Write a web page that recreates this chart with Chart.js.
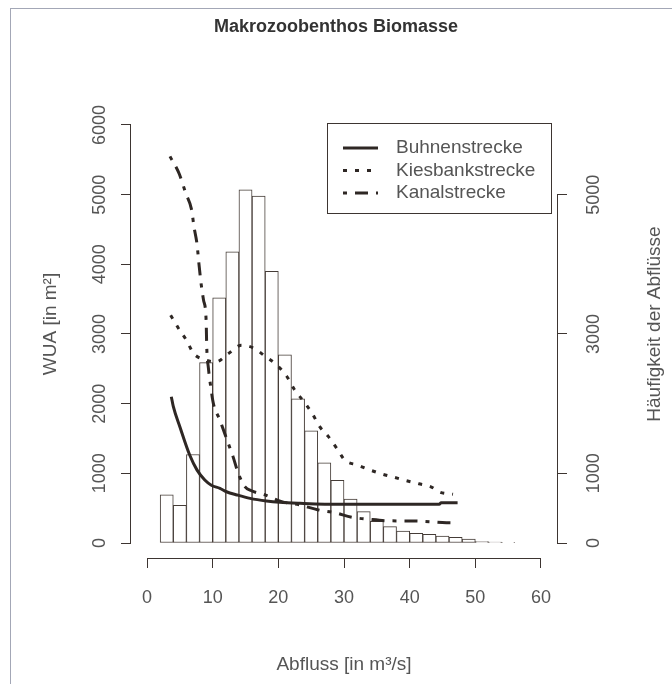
<!DOCTYPE html>
<html>
<head>
<title>Makrozoobenthos Biomasse</title>
<script src="https://cdn.jsdelivr.net/npm/chart.js@4.4.0/dist/chart.umd.min.js"></script>
<style>
    body { margin: 0; background: #fff; }
    #wrap { position: relative; width: 672px; height: 684px; overflow: hidden; }
    #frame { position: absolute; left: 10px; top: 8px; width: 700px; height: 700px;
             border-left: 1px solid #a3a7b6; border-top: 1px solid #a3a7b6; }
    #myChart { position: absolute; left: 0; top: 0; }
</style>
<script>
// Abfluss-Klassen (Mitte, 2 m3/s breit) und Haeufigkeiten
const binMid   = [3, 5, 7, 9, 11, 13, 15, 17, 19, 21, 23, 25, 27, 29, 31, 33, 35, 37, 39, 41, 43, 45, 47, 49, 51, 53, 55];
const binCount = [690, 540, 1270, 2590, 3520, 4180, 5070, 4980, 3900, 2700, 2070, 1610, 1150, 900, 630, 450, 310, 235, 170, 140, 125, 100, 80, 55, 20, 15, 5];

// WUA-Kurven
const buhnenQ   = [3.7, 4.0, 5.0, 6.5, 7.6, 8.8, 9.8, 11.1, 12.1, 13.7, 15.7, 18.2, 20.2, 23.3, 29.4, 44.5, 44.8, 47.3];
const buhnenWUA = [2100, 1960, 1670, 1263, 1050, 905, 830, 785, 736, 690, 641, 603, 584, 570, 555, 555, 578, 578];

const kiesQ   = [3.6, 4.8, 6.0, 7.1, 8.5, 10.5, 12.4, 14.4, 16.2, 18.0, 19.7, 21.3, 22.4, 23.8, 25.1, 26.3, 27.6, 29.0, 30.1, 32.0, 33.9, 35.8, 37.6, 39.5, 41.4, 43.4, 44.6, 46.6];
const kiesWUA = [3270, 3080, 2910, 2720, 2640, 2600, 2720, 2840, 2800, 2680, 2560, 2390, 2210, 2040, 1870, 1670, 1530, 1345, 1190, 1120, 1050, 990, 945, 895, 850, 800, 730, 700];

const kanalQ   = [3.5, 4.9, 5.9, 6.8, 7.15, 7.6, 7.9, 8.2, 8.6, 9.0, 9.1, 9.35, 9.7, 10.1, 11.1, 12.1, 13.1, 13.9, 14.9, 15.9, 18.0, 20.5, 23.3, 26.1, 28.6, 31.2, 33.9, 36.5, 41.1, 45.6, 47.2];
const kanalWUA = [5550, 5300, 5020, 4780, 4540, 4300, 4015, 3750, 3490, 3200, 2800, 2510, 2245, 2005, 1765, 1500, 1240, 1000, 810, 750, 690, 595, 545, 475, 435, 370, 340, 320, 315, 292, 290];

const xTicks  = [0, 10, 20, 30, 40, 50, 60];
const yTicks  = [0, 1000, 2000, 3000, 4000, 5000, 6000];
const y2Ticks = [0, 1000, 3000, 5000];

const lineCol = '#2e2724';
const axisCol = '#3d3531';
const textCol = '#555';
const fontFam = "'Liberation Sans', Arial, sans-serif";

document.addEventListener('DOMContentLoaded', init);

function pts(xs, ys) {
    return xs.map((x, i) => ({x: x, y: ys[i]}));
}

// Achsenlinien nur ueber den Tick-Bereich (wie in R), Legende, rechter Titel
const rStyle = {
    id: 'rStyle',
    afterDraw(chart) {
        const ctx = chart.ctx, a = chart.chartArea;
        const sx = chart.scales.x, sy = chart.scales.y, sy2 = chart.scales.y2;
        ctx.save();
        ctx.strokeStyle = axisCol;
        ctx.lineWidth = 1;
        ctx.beginPath();
        ctx.moveTo(sx.getPixelForValue(xTicks[0]), a.bottom + 0.5);
        ctx.lineTo(sx.getPixelForValue(xTicks[xTicks.length - 1]), a.bottom + 0.5);
        ctx.moveTo(a.left - 0.5, sy.getPixelForValue(yTicks[0]));
        ctx.lineTo(a.left - 0.5, sy.getPixelForValue(yTicks[yTicks.length - 1]));
        ctx.moveTo(a.right + 0.5, sy2.getPixelForValue(y2Ticks[0]));
        ctx.lineTo(a.right + 0.5, sy2.getPixelForValue(y2Ticks[y2Ticks.length - 1]));
        ctx.stroke();

        // legend box
        const bx = a.right - 230, by = a.top + 33, bw = 224, bh = 90;
        ctx.strokeRect(bx + 0.5, by + 0.5, bw, bh);
        ctx.font = '19px ' + fontFam;
        ctx.fillStyle = textCol;
        ctx.textBaseline = 'middle';
        ctx.textAlign = 'left';
        chart.data.datasets.filter(d => d.type === 'line').forEach((d, i) => {
            const y = by + 25 + i * 22.5;
            ctx.beginPath();
            ctx.setLineDash(d.borderDash || []);
            ctx.lineWidth = d.borderWidth;
            ctx.strokeStyle = d.borderColor;
            ctx.moveTo(bx + 16, y);
            ctx.lineTo(bx + 51, y);
            ctx.stroke();
            ctx.setLineDash([]);
            ctx.fillText(d.label, bx + 69, y);
        });

        // right axis title, read bottom to top
        ctx.font = '19px ' + fontFam;
        ctx.translate(655, (a.top + a.bottom) / 2);
        ctx.rotate(-Math.PI / 2);
        ctx.textAlign = 'center';
        ctx.fillText('Häufigkeit der Abflüsse', 0, 0);
        ctx.restore();
    }
};

function init() {
    Chart.defaults.font.family = fontFam;
    Chart.defaults.color = textCol;
    const tickGrid = {display: true, drawOnChartArea: false, drawTicks: true, tickLength: 10, tickColor: axisCol, offset: false};
    let ctx = document.getElementById('myChart').getContext('2d');
    let chart = new Chart(ctx, {
        type: 'line',
        data: {
            datasets: [{
                type: 'line',
                label: 'Buhnenstrecke',
                data: pts(buhnenQ, buhnenWUA),
                borderColor: lineCol,
                borderWidth: 3,
                borderDash: [],
                pointRadius: 0,
                cubicInterpolationMode: 'monotone',
                yAxisID: 'y',
                order: 0
            }, {
                type: 'line',
                label: 'Kiesbankstrecke',
                data: pts(kiesQ, kiesWUA),
                borderColor: lineCol,
                borderWidth: 3,
                borderDash: [4, 8],
                pointRadius: 0,
                cubicInterpolationMode: 'monotone',
                yAxisID: 'y',
                order: 0
            }, {
                type: 'line',
                label: 'Kanalstrecke',
                data: pts(kanalQ, kanalWUA),
                borderColor: lineCol,
                borderWidth: 3,
                borderDash: [4, 8, 13, 8],
                pointRadius: 0,
                cubicInterpolationMode: 'monotone',
                yAxisID: 'y',
                order: 0
            }, {
                type: 'bar',
                label: 'Häufigkeit der Abflüsse',
                data: pts(binMid, binCount),
                backgroundColor: '#ffffff',
                borderColor: '#453c37',
                borderWidth: 1,
                borderSkipped: false,
                barPercentage: 1,
                categoryPercentage: 1,
                yAxisID: 'y2',
                order: 1
            }]
        },
        options: {
            responsive: false,
            animation: false,
            events: [],
            layout: {padding: 0},
            plugins: {
                legend: {display: false},
                tooltip: {enabled: false},
                title: {
                    display: true,
                    text: 'Makrozoobenthos Biomasse',
                    color: '#333',
                    font: {size: 18, weight: 'bold'},
                    padding: {top: 16.2, bottom: 52.2}
                }
            },
            scales: {
                x: {
                    type: 'linear', min: -2.44, max: 62.44, offset: false,
                    afterBuildTicks: s => { s.ticks = xTicks.map(v => ({value: v})); },
                    afterFit: s => { s.height = 126; },
                    grid: tickGrid,
                    border: {display: false},
                    ticks: {font: {size: 18}, padding: 19, maxRotation: 0, autoSkip: false, callback: v => String(v)},
                    title: {display: true, text: 'Abfluss [in m³/s]', font: {size: 19}, padding: {top: 0, bottom: 7.6}}
                },
                y: {
                    type: 'linear', position: 'left', min: -215, max: 6502,
                    afterBuildTicks: s => { s.ticks = yTicks.map(v => ({value: v})); },
                    afterFit: s => { s.width = 131; },
                    grid: tickGrid,
                    border: {display: false},
                    ticks: {font: {size: 18}, minRotation: 90, maxRotation: 90, crossAlign: 'center', padding: 1, autoSkip: false, callback: v => String(v)},
                    title: {display: true, text: 'WUA [in m²]', font: {size: 19}, padding: {top: 39.6, bottom: 0}}
                },
                y2: {
                    type: 'linear', position: 'right', min: -215, max: 6502,
                    afterBuildTicks: s => { s.ticks = y2Ticks.map(v => ({value: v})); },
                    afterFit: s => { s.width = 115; },
                    grid: tickGrid,
                    border: {display: false},
                    ticks: {font: {size: 18}, minRotation: 90, maxRotation: 90, crossAlign: 'center', padding: 7, autoSkip: false, callback: v => String(v)}
                }
            }
        },
        plugins: [rStyle]
    });
}
</script>
</head>
<body>
    <div id="wrap">
        <div id="frame"></div>
        <canvas id="myChart" width="672" height="684"></canvas>
    </div>
</body>
</html>
